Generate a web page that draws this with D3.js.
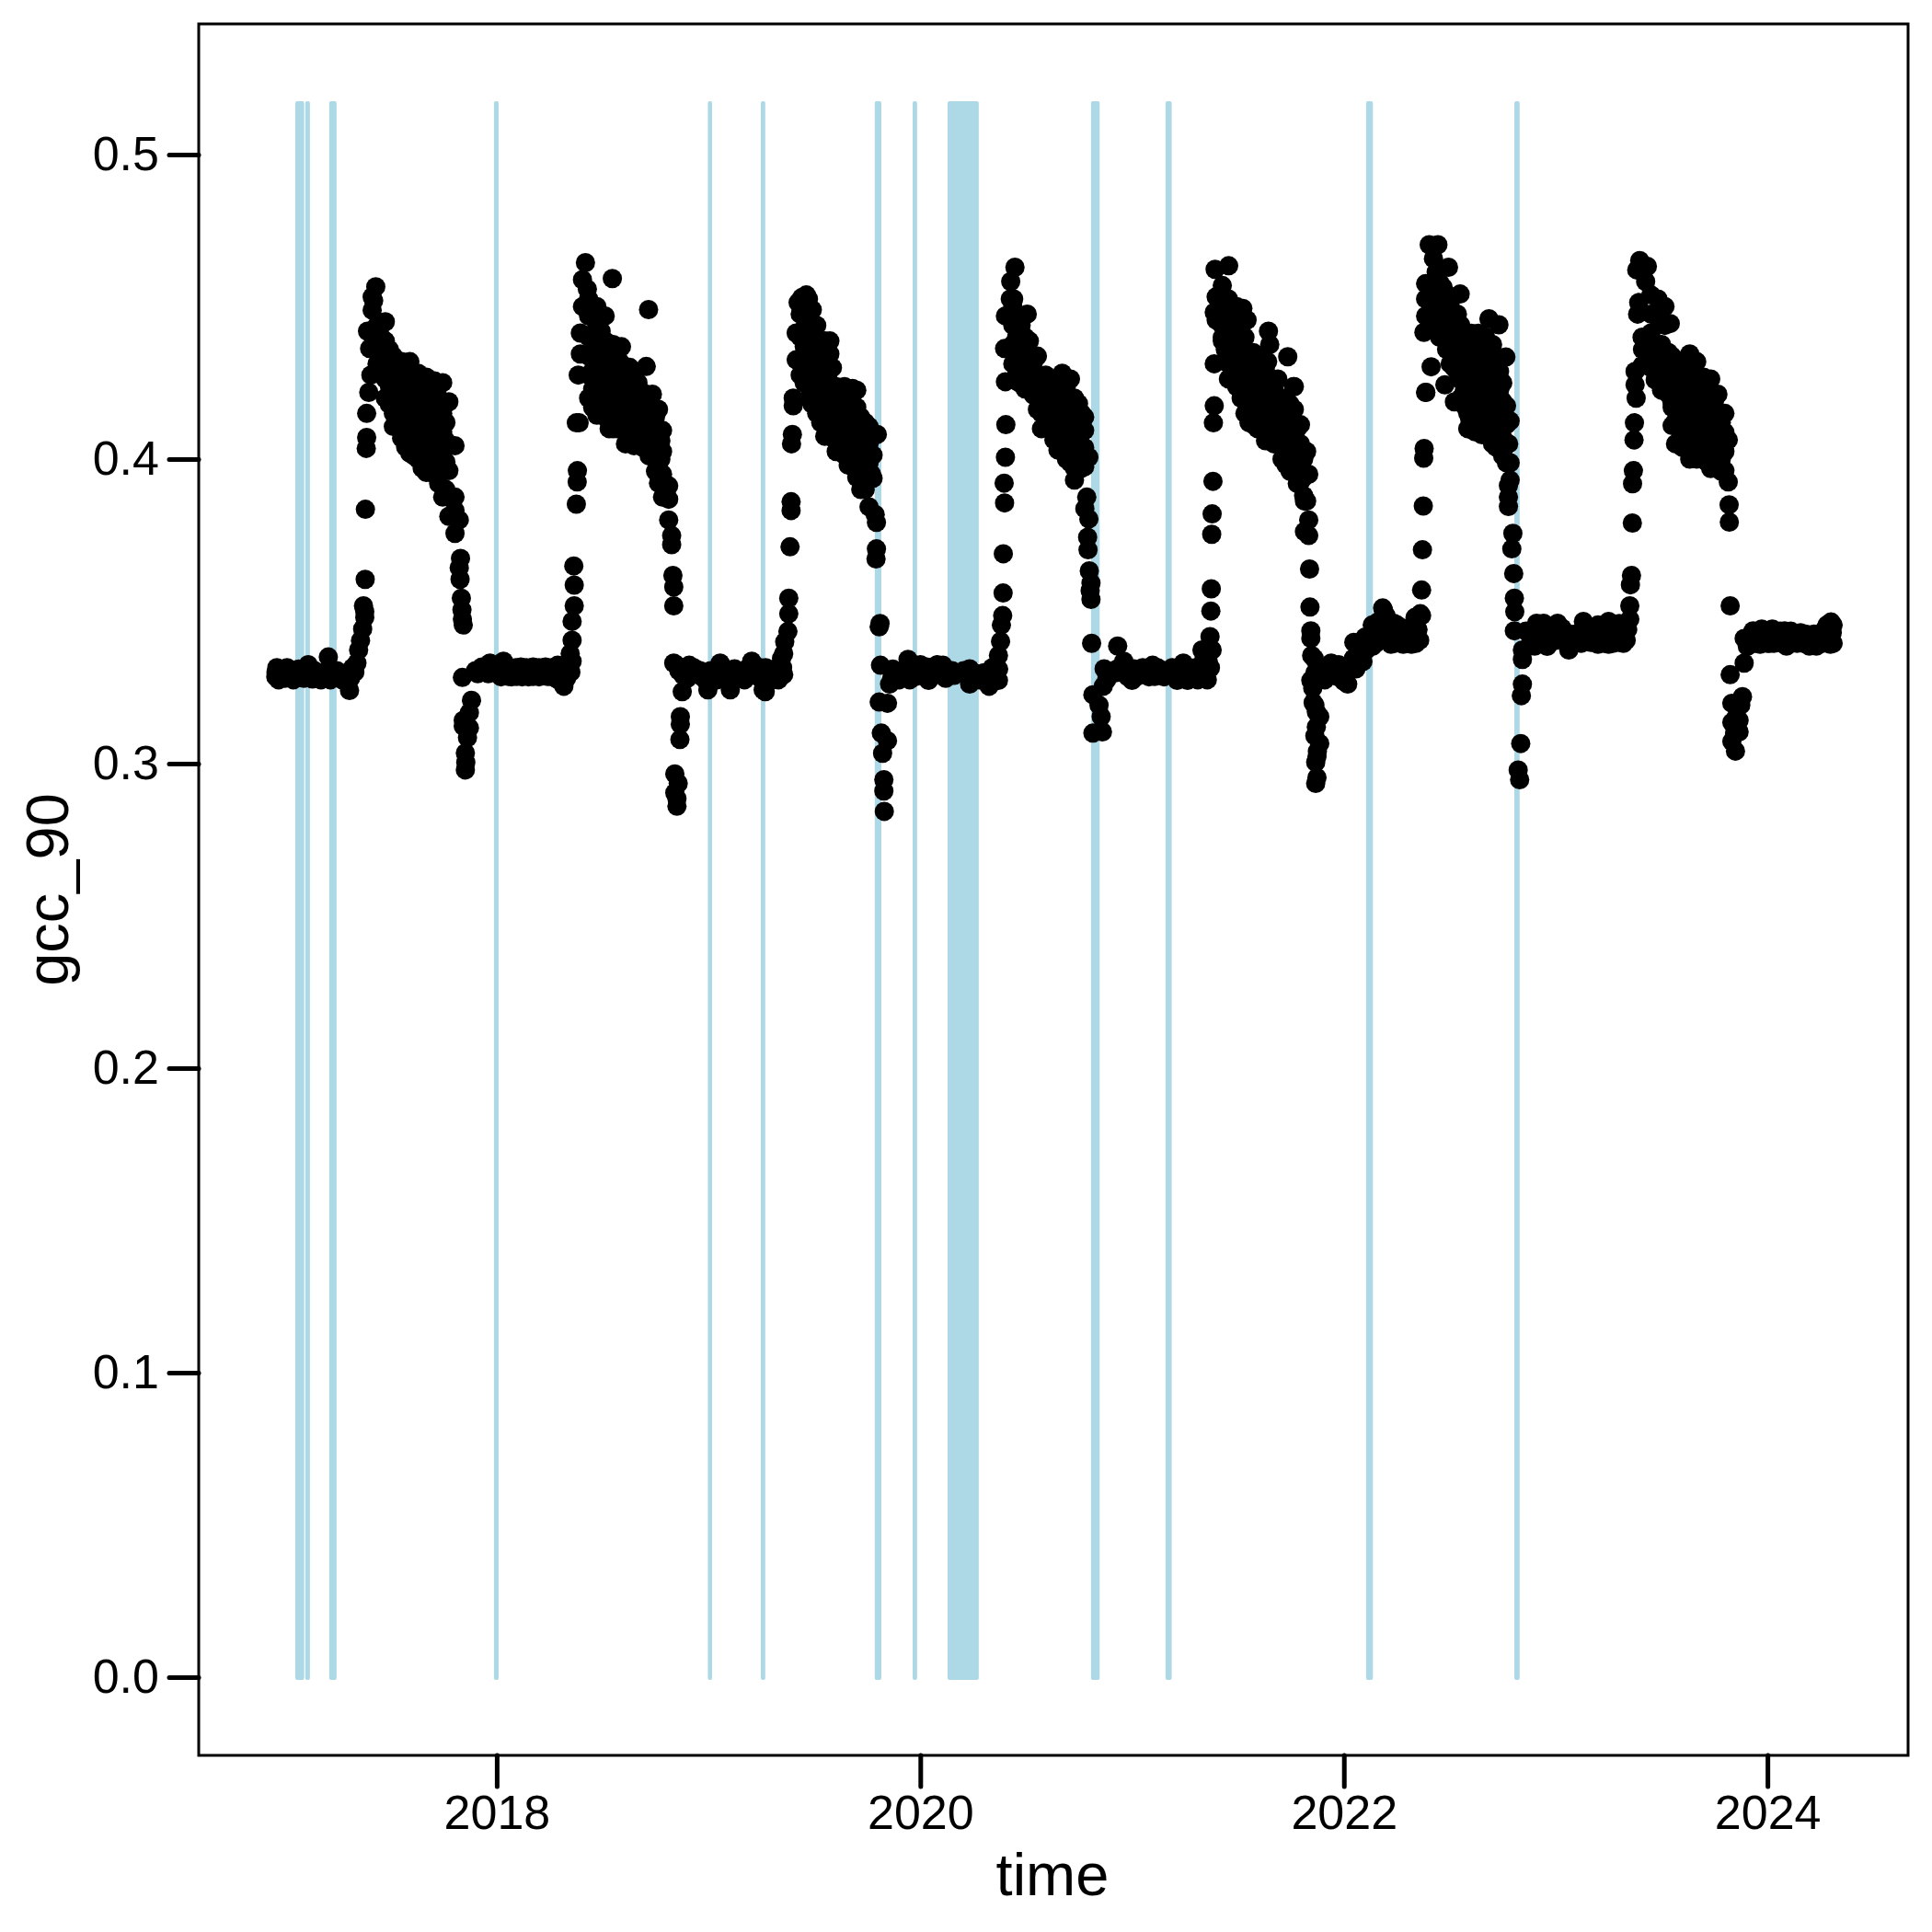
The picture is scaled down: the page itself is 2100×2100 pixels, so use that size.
<!DOCTYPE html>
<html>
<head>
<meta charset="utf-8">
<script src="https://cdn.jsdelivr.net/npm/d3@7"></script>
<style>
html, body { margin: 0; padding: 0; background: #fff; }
text { font-family: "Liberation Sans", Arial, sans-serif; fill: #000; }
.axis text { font-size: 52px; }
.label { font-size: 65px; text-anchor: middle; }
</style>
</head>
<body>
<div id="chart"></div>
<script>
// y ticks, x ticks
let yTicks = [0, 0.1, 0.2, 0.3, 0.4, 0.5];
let xTicks = [2018, 2020, 2022, 2024];

// periods with missing pictures, start and end in decimal years
let gapStart = [2017.049, 2017.096, 2017.209, 2017.987, 2018.997, 2019.247, 2019.785, 2019.964, 2020.129, 2020.806, 2021.158, 2022.105, 2022.805];
let gapEnd = [2017.091, 2017.118, 2017.244, 2018.009, 2019.017, 2019.268, 2019.816, 2019.985, 2020.276, 2020.847, 2021.187, 2022.137, 2022.83];
let gapTop = 0.5175;

// gcc_90, [decimal year, value]
let season2017 = [
  [2016.957,.3285],[2016.958,.330],[2016.962,.3315],[2016.975,.330],[2016.985,.329],[2016.995,.3295],[2017.01,.3315],[2017.02,.329],[2017.035,.3285],[2017.05,.330],[2017.065,.331],[2017.08,.329],[2017.095,.3305],[2017.11,.3325],[2017.125,.3295],[2017.14,.3305],[2017.155,.329],[2017.17,.3275],[2017.185,.329],[2017.2,.3305],[2017.205,.335],[2017.215,.3275],[2017.23,.329],[2017.245,.3305],[2017.26,.3295],[2017.275,.329],[2017.29,.3275],[2017.305,.324],[2017.295,.3285],
  [2016.97,.3275],[2017.0,.328],[2017.04,.3275],[2017.09,.328],[2017.13,.3278],[2017.27,.3275],[2017.31,.328],[2017.32,.3315],[2017.34,.333],
  [2017.33,.330],[2017.348,.3373],[2017.357,.3404],[2017.367,.3442],[2017.377,.348],[2017.371,.3518],[2017.377,.3499],[2017.379,.3605],[2017.38,.3835],[2017.384,.4035],[2017.386,.4071],[2017.386,.415],[2017.396,.4219],[2017.406,.4276],[2017.39,.442],[2017.4,.4363],[2017.412,.4489],[2017.412,.4533],[2017.429,.4566],[2017.419,.452],
  [2017.435,.4439],[2017.435,.4376],[2017.435,.4313],[2017.455,.44],[2017.455,.434],[2017.455,.428],
  [2017.474,.4451],[2017.474,.4388],[2017.474,.4326],[2017.474,.4263],[2017.474,.42],[2017.493,.436],[2017.493,.43],[2017.493,.424],[2017.493,.418],
  [2017.512,.4338],[2017.512,.4276],[2017.512,.4213],[2017.512,.415],[2017.512,.4107],[2017.53,.429],[2017.53,.423],[2017.53,.417],[2017.53,.411],
  [2017.551,.432],[2017.551,.4251],[2017.551,.4188],[2017.551,.4125],[2017.551,.4069],[2017.57,.427],[2017.57,.421],[2017.57,.415],[2017.57,.409],[2017.57,.404],
  [2017.59,.432],[2017.59,.4251],[2017.59,.4188],[2017.59,.4125],[2017.59,.4063],[2017.59,.4019],[2017.61,.424],[2017.61,.418],[2017.61,.412],[2017.61,.406],[2017.61,.401],
  [2017.629,.4282],[2017.629,.4226],[2017.629,.4163],[2017.629,.41],[2017.629,.4038],[2017.629,.4],[2017.648,.422],[2017.648,.415],[2017.648,.409],[2017.648,.403],[2017.648,.397],
  [2017.668,.4269],[2017.668,.4188],[2017.668,.4125],[2017.668,.4063],[2017.668,.4],[2017.668,.3956],[2017.687,.42],[2017.687,.414],[2017.687,.408],[2017.687,.402],[2017.687,.396],
  [2017.706,.4257],[2017.706,.4163],[2017.706,.41],[2017.706,.4038],[2017.706,.3975],[2017.706,.395],[2017.726,.42],[2017.726,.413],[2017.726,.407],[2017.726,.401],[2017.726,.392],
  [2017.745,.4251],[2017.745,.415],[2017.745,.4088],[2017.745,.4025],[2017.745,.3962],[2017.745,.3875],[2017.76,.412],[2017.76,.406],[2017.76,.399],[2017.76,.39],
  [2017.774,.4188],[2017.774,.4044],[2017.774,.3962],[2017.774,.3875],[2017.774,.3812],
  [2017.803,.4044],[2017.803,.3875],[2017.803,.3831],[2017.803,.3756],[2017.823,.38],
  [2017.829,.3674],[2017.823,.3643],[2017.827,.3605],[2017.833,.3543],[2017.836,.3505],[2017.838,.3474],[2017.842,.3455]
];

let season2018 = [
  [2017.838,.3283],[2017.852,.2979],[2017.854,.3004],[2017.852,.3035],[2017.862,.3085],[2017.871,.3117],[2017.842,.3142],[2017.881,.3208],[2017.871,.3167],[2017.842,.3123],
  [2017.9,.3305],[2017.93,.3317],[2017.968,.333],[2018.032,.3336],[2017.997,.3298],[2018.056,.3286],[2018.094,.3286],[2018.114,.3317],[2018.172,.3317],[2018.172,.3286],[2018.23,.3317],[2018.24,.3286],[2018.288,.3323],[2018.317,.3254],[2018.347,.3361],[2018.356,.3405],[2018.356,.3336],[2018.337,.3298],[2018.356,.3467],[2018.366,.3518],[2018.366,.3586],[2018.364,.3649],
  [2018.14,.3305],[2018.2,.33],[2018.265,.33],[2018.01,.3315],[2018.075,.331],
  [2017.91,.3295],[2017.95,.3315],[2017.98,.3325],[2018.05,.3315],[2018.09,.3315],[2018.14,.3315],[2018.2,.3315],[2018.26,.3315],[2018.31,.3315],[2018.34,.3325],[2017.96,.3295],[2018.02,.3285],[2018.07,.3285],[2018.12,.3285],[2018.15,.3285],[2018.2,.3285],[2018.26,.3285],[2018.29,.3275],[2018.33,.328],[2018.35,.33],
  [2018.376,.3852],[2018.38,.3925],[2018.381,.3962],[2018.376,.4119],[2018.389,.4119],[2018.385,.4276],[2018.395,.4345],[2018.395,.4414],[2018.405,.4501],[2018.405,.4589],[2018.428,.4558],[2018.419,.4645],[2018.546,.4593],[2018.717,.4491],
  [2018.434,.4526],[2018.434,.447],[2018.434,.4401],[2018.434,.4338],[2018.434,.4276],[2018.434,.42],[2018.453,.447],[2018.453,.441],[2018.453,.435],[2018.453,.429],[2018.453,.423],[2018.453,.417],
  [2018.473,.4501],[2018.473,.4439],[2018.473,.4376],[2018.473,.4313],[2018.473,.4251],[2018.473,.4188],[2018.473,.4144],[2018.493,.442],[2018.493,.435],[2018.493,.429],[2018.493,.423],[2018.493,.417],
  [2018.512,.447],[2018.512,.4388],[2018.512,.4326],[2018.512,.4263],[2018.512,.42],[2018.512,.4138],[2018.531,.434],[2018.531,.428],[2018.531,.422],[2018.531,.416],[2018.531,.41],
  [2018.55,.4376],[2018.55,.4313],[2018.55,.4251],[2018.55,.4188],[2018.55,.41],[2018.57,.434],[2018.57,.428],[2018.57,.422],[2018.57,.416],[2018.57,.41],
  [2018.589,.4369],[2018.589,.4313],[2018.589,.4251],[2018.589,.4188],[2018.589,.4125],[2018.608,.428],[2018.608,.422],[2018.608,.416],[2018.608,.41],[2018.608,.405],
  [2018.628,.4301],[2018.628,.4251],[2018.628,.4188],[2018.628,.4125],[2018.628,.4063],[2018.648,.4044],[2018.648,.428],[2018.648,.422],[2018.648,.416],[2018.648,.41],
  [2018.667,.4251],[2018.667,.4188],[2018.667,.4125],[2018.667,.4063],[2018.687,.422],[2018.687,.416],[2018.687,.41],[2018.687,.404],
  [2018.706,.4304],[2018.706,.42],[2018.706,.415],[2018.706,.41],[2018.706,.4038],[2018.72,.418],[2018.72,.412],[2018.72,.406],[2018.72,.401],
  [2018.735,.4213],[2018.735,.415],[2018.735,.4088],[2018.735,.4013],[2018.75,.414],[2018.75,.408],[2018.75,.402],[2018.75,.396],
  [2018.764,.4163],[2018.764,.41],[2018.764,.4038],[2018.764,.3975],[2018.764,.3921],[2018.775,.406],[2018.775,.4],[2018.775,.394],
  [2018.783,.4094],[2018.783,.4025],[2018.783,.395],[2018.783,.3875],
  [2018.812,.3912],[2018.812,.3868],[2018.812,.38],[2018.826,.3749],[2018.826,.3719],
  [2018.832,.3618],[2018.836,.358],[2018.836,.3518]
];

let season2019 = [
  [2018.836,.333],[2018.876,.3236],[2018.867,.3154],[2018.867,.3129],[2018.865,.3079],[2018.841,.2966],[2018.857,.2935],[2018.841,.2904],[2018.851,.286],[2018.851,.2885],
  [2018.85,.3323],[2018.88,.329],[2018.909,.3323],[2018.94,.33],[2018.967,.3286],[2018.997,.3242],[2019.026,.3286],[2019.055,.333],[2019.08,.329],[2019.103,.3242],[2019.123,.3311],[2019.161,.3292],[2019.19,.33],[2019.204,.3336],[2019.22,.3298],[2019.258,.3242],[2019.268,.3236],[2019.29,.329],[2019.317,.3311],[2019.34,.33],[2019.355,.3292],[2019.355,.3361],[2019.36,.34],[2019.375,.3434],[2019.379,.3492],[2019.379,.3543],[2019.385,.3712],[2019.39,.3831],[2019.39,.386],[2019.392,.405],[2019.396,.4081],[2019.4,.4175],[2019.4,.42],[2019.414,.4326],[2019.414,.4414],[2019.423,.4514],[2019.462,.4539],[2019.44,.453],
  [2018.86,.3305],[2018.9,.328],[2018.93,.3315],[2018.96,.3305],[2018.985,.3275],[2019.01,.3305],[2019.04,.3275],[2019.07,.3315],[2019.09,.3275],[2019.115,.3275],[2019.14,.3305],[2019.17,.3275],[2019.19,.3315],[2019.235,.3285],[2019.245,.3315],[2019.27,.3315],[2019.3,.3275],[2019.33,.3275],[2019.35,.3315],[2019.345,.3345],
  [2019.433,.4476],[2019.433,.4401],[2019.433,.4326],[2019.433,.4276],[2019.452,.449],[2019.452,.443],[2019.452,.437],[2019.452,.431],[2019.452,.425],
  [2019.472,.4526],[2019.472,.447],[2019.472,.4388],[2019.472,.4313],[2019.472,.4251],[2019.472,.42],[2019.49,.449],[2019.49,.442],[2019.49,.436],[2019.49,.43],[2019.49,.424],[2019.49,.418],
  [2019.511,.4439],[2019.511,.4376],[2019.511,.4313],[2019.511,.4251],[2019.511,.4188],[2019.511,.415],[2019.53,.436],[2019.53,.43],[2019.53,.424],[2019.53,.418],[2019.53,.412],
  [2019.549,.4388],[2019.549,.4326],[2019.549,.4251],[2019.549,.4188],[2019.549,.4125],[2019.549,.4075],
  [2019.564,.4276],[2019.564,.4213],[2019.564,.415],[2019.564,.4088],[2019.573,.4388],[2019.573,.4345],[2019.585,.43],[2019.585,.424],[2019.585,.418],[2019.585,.412],[2019.585,.407],
  [2019.603,.4238],[2019.603,.4188],[2019.603,.4125],[2019.603,.4063],[2019.603,.4025],[2019.622,.421],[2019.622,.415],[2019.622,.409],[2019.622,.404],
  [2019.642,.4238],[2019.642,.4188],[2019.642,.4125],[2019.642,.4063],[2019.642,.4013],[2019.66,.42],[2019.66,.414],[2019.66,.408],[2019.66,.402],[2019.66,.398],
  [2019.68,.4232],[2019.68,.4163],[2019.68,.41],[2019.68,.4038],[2019.68,.3975],[2019.70,.417],[2019.70,.411],[2019.70,.405],[2019.70,.399],[2019.70,.394],
  [2019.70,.4226],[2019.719,.4138],[2019.719,.4075],[2019.719,.4013],[2019.719,.395],[2019.719,.39],[2019.74,.412],[2019.74,.406],[2019.74,.4],[2019.74,.394],[2019.74,.39],
  [2019.758,.4107],[2019.758,.405],[2019.758,.3988],[2019.758,.3937],[2019.77,.407],[2019.77,.401],[2019.77,.395],
  [2019.777,.4081],[2019.777,.4013],[2019.777,.3937],[2019.797,.4081],
  [2019.758,.3843],[2019.793,.3792],[2019.787,.3818],[2019.793,.3705],[2019.791,.3672],[2019.806,.3449],[2019.81,.346]
];

let season2020 = [
  [2019.812,.3323],[2019.806,.3202],[2019.845,.3198],[2019.816,.31],[2019.845,.3075],[2019.822,.3034],[2019.828,.2947],[2019.828,.291],[2019.83,.2843],
  [2019.855,.3261],[2019.865,.328],[2019.884,.3292],[2019.91,.3295],[2019.942,.3342],[2019.923,.3286],[2019.96,.33],[2019.981,.3311],[2020.01,.3305],[2020.039,.3273],[2020.03,.3317],[2020.06,.33],[2020.107,.3323],[2020.078,.3292],[2020.136,.3292],[2020.224,.3286],[2020.233,.3261],[2020.233,.3311],[2020.27,.3295],[2020.301,.3298],[2020.325,.3254],[2020.35,.329],[2020.369,.3273],[2020.369,.3355],[2020.379,.3401],[2020.383,.3455],[2020.389,.3486],[2020.391,.356],[2020.392,.3689],[2020.398,.3856],[2020.396,.3921],[2020.402,.4006],[2020.404,.4113],[2020.402,.4254],[2020.466,.4251],[2020.398,.4363],[2020.402,.447],[2020.427,.4583],[2020.447,.463],[2020.441,.4526],[2020.505,.4476],[2020.425,.4526],
  [2019.87,.331],[2019.9,.3275],[2019.93,.3305],[2019.95,.3275],[2019.975,.3285],[2020.0,.3325],[2020.02,.3285],[2020.05,.3315],[2020.08,.3325],[2020.1,.3295],[2020.12,.328],[2020.15,.3305],[2020.16,.329],[2020.205,.3305],[2020.25,.329],[2020.28,.3275],[2020.31,.3285],[2020.34,.3315],[2020.36,.3275],[2020.37,.331],
  [2020.437,.4501],[2020.437,.4439],[2020.437,.4376],[2020.437,.4313],[2020.455,.447],[2020.455,.44],[2020.455,.434],[2020.455,.428],
  [2020.476,.4439],[2020.476,.4376],[2020.476,.4313],[2020.476,.4263],[2020.495,.44],[2020.495,.434],[2020.495,.428],[2020.495,.423],
  [2020.515,.4388],[2020.515,.4326],[2020.515,.4276],[2020.515,.4226],[2020.535,.432],[2020.535,.427],[2020.535,.421],
  [2020.553,.4338],[2020.553,.4276],[2020.553,.4226],[2020.553,.4163],[2020.572,.427],[2020.572,.421],[2020.572,.415],[2020.572,.41],
  [2020.592,.4276],[2020.592,.4226],[2020.592,.4163],[2020.592,.4107],[2020.612,.422],[2020.612,.416],[2020.612,.41],
  [2020.631,.4251],[2020.631,.4188],[2020.631,.4125],[2020.631,.4063],[2020.65,.42],[2020.65,.414],[2020.65,.408],[2020.65,.403],
  [2020.67,.4282],[2020.67,.4213],[2020.67,.415],[2020.67,.4088],[2020.67,.4025],[2020.69,.424],[2020.69,.418],[2020.69,.412],[2020.69,.406],[2020.69,.4],
  [2020.709,.4263],[2020.709,.4188],[2020.709,.4125],[2020.709,.4063],[2020.709,.3988],[2020.728,.42],[2020.728,.414],[2020.728,.408],[2020.728,.402],[2020.728,.397],
  [2020.747,.4182],[2020.747,.4113],[2020.747,.405],[2020.747,.3988],[2020.762,.415],[2020.762,.409],[2020.762,.403],[2020.762,.397],
  [2020.776,.4138],[2020.776,.4094],[2020.776,.4038],[2020.776,.3975],[2020.796,.4006],[2020.728,.3931],
  [2020.786,.3875],[2020.777,.3837],[2020.796,.3803],[2020.79,.3743],[2020.792,.3702],[2020.798,.3633],[2020.806,.3593],[2020.802,.3568],[2020.806,.3539],[2020.809,.3395]
];

let season2021 = [
  [2020.815,.3226],[2020.844,.3192],[2020.854,.3154],[2020.815,.31],[2020.86,.3104],[2020.868,.3311],[2020.864,.3254],[2020.932,.3386],[2020.922,.3298],[2020.89,.3295],[2021.0,.3273],[2020.961,.3336],[2021.009,.3311],[2020.98,.3305],[2021.03,.33],[2021.097,.3323],[2021.106,.3286],[2021.058,.3292],[2021.14,.3295],[2021.174,.3298],[2021.213,.3273],[2021.242,.333],[2021.262,.3273],[2021.29,.3285],[2021.32,.3286],[2021.33,.3373],[2021.368,.3417],[2021.359,.3336],[2021.378,.3373],[2021.35,.33],
  [2020.88,.3275],[2020.91,.3305],[2020.94,.3315],[2020.98,.3285],[2021.02,.3285],[2021.05,.3315],[2021.08,.3285],[2021.12,.3315],[2021.15,.3285],[2021.19,.3315],[2021.22,.3285],[2021.23,.3315],[2021.27,.3315],[2021.3,.3315],[2021.31,.3275],[2021.34,.3345],[2021.355,.3275],[2021.37,.3315],
  [2021.372,.3501],[2021.374,.3574],[2021.376,.3753],[2021.378,.382],[2021.382,.3927],[2021.384,.4119],[2021.388,.4175],[2021.388,.4313],
  [2021.392,.4623],[2021.456,.4635],[2021.426,.457],[2021.397,.4533],[2021.388,.4482],[2021.397,.4457],[2021.426,.44],[2021.523,.4495],[2021.543,.4457],[2021.644,.442],[2021.65,.4376],[2021.735,.4336],[2021.762,.4238],[2021.64,.432],
  [2021.426,.4501],[2021.426,.4439],[2021.426,.4388],[2021.44,.448],[2021.44,.442],[2021.44,.436],
  [2021.455,.4526],[2021.455,.4451],[2021.455,.4376],[2021.455,.4313],[2021.455,.4263],[2021.475,.449],[2021.475,.443],[2021.475,.437],[2021.475,.431],[2021.475,.426],
  [2021.494,.4501],[2021.494,.4426],[2021.494,.4363],[2021.494,.43],[2021.494,.4238],[2021.515,.444],[2021.515,.438],[2021.515,.432],[2021.515,.426],[2021.515,.42],
  [2021.533,.44],[2021.533,.4338],[2021.533,.4276],[2021.533,.4213],[2021.533,.415],[2021.552,.435],[2021.552,.43],[2021.552,.424],[2021.552,.418],[2021.552,.412],
  [2021.572,.435],[2021.572,.4288],[2021.572,.4226],[2021.572,.4163],[2021.572,.4113],[2021.592,.433],[2021.592,.427],[2021.592,.421],[2021.592,.415],[2021.592,.41],
  [2021.611,.4326],[2021.611,.4263],[2021.611,.42],[2021.611,.4138],[2021.63,.429],[2021.63,.423],[2021.63,.417],[2021.63,.411],[2021.63,.406],
  [2021.65,.4263],[2021.65,.42],[2021.65,.4138],[2021.65,.4081],[2021.67,.423],[2021.67,.417],[2021.67,.411],[2021.67,.405],
  [2021.688,.4263],[2021.688,.4188],[2021.688,.4125],[2021.688,.4063],[2021.708,.418],[2021.708,.412],[2021.708,.406],[2021.708,.4],
  [2021.727,.42],[2021.727,.4138],[2021.727,.4075],[2021.727,.4013],[2021.727,.3981],[2021.746,.418],[2021.746,.412],[2021.746,.406],[2021.746,.4],[2021.746,.396],
  [2021.766,.4238],[2021.766,.4163],[2021.766,.41],[2021.766,.4038],[2021.766,.3975],[2021.78,.41],[2021.78,.404],[2021.78,.398],[2021.78,.392],
  [2021.795,.4113],[2021.795,.405],[2021.795,.3988],[2021.795,.3925],[2021.81,.4],[2021.81,.394],[2021.81,.388],
  [2021.824,.4025],[2021.824,.395],[2021.824,.3862],[2021.834,.38],[2021.834,.395],[2021.834,.3749],[2021.814,.3762],[2021.814,.3862],
  [2021.838,.3639],[2021.84,.3514],[2021.844,.3436],[2021.844,.3411],[2021.848,.3355]
];

let season2022 = [
  [2021.863,.3298],[2021.853,.3248],[2021.863,.3192],[2021.886,.3154],[2021.863,.3091],[2021.886,.3066],[2021.867,.3004],[2021.873,.3023],[2021.867,.2935],[2021.873,.2954],[2021.844,.3273],
  [2021.892,.3317],[2021.915,.3305],[2021.94,.333],[2021.97,.3286],[2021.995,.33],[2022.018,.3261],[2022.047,.3398],[2022.057,.3311],[2022.08,.3345],[2022.105,.3373],[2022.134,.3455],[2022.183,.3511],[2022.164,.3436],[2022.251,.3455],[2022.222,.3392],[2022.28,.3392],[2022.319,.3392],[2022.358,.3405],[2022.367,.3486],[2022.367,.357],[2022.371,.3702],[2022.375,.3846],[2022.377,.4003],[2022.379,.4035],[2022.387,.4219],[2022.412,.4303],
  [2022.187,.3505],[2022.236,.3461],[2022.336,.348],[2022.361,.3492],[2022.15,.3395],[2022.2,.345],
  [2021.86,.3345],[2021.855,.32],[2021.87,.317],[2021.87,.312],[2021.875,.304],[2021.88,.3295],[2021.91,.3275],[2021.93,.3295],[2021.95,.3295],[2021.975,.3325],[2022.0,.327],[2022.03,.332],[2022.045,.3345],[2022.07,.3375],[2022.09,.3335],[2022.12,.3415],[2022.1,.3415],[2022.135,.3385],[2022.16,.3465],[2022.2,.3485],[2022.215,.3445],[2022.24,.3395],[2022.26,.3425],[2022.3,.3425],[2022.3,.3395],[2022.34,.3395],[2022.35,.344],[2022.33,.3445],[2022.27,.341],[2022.28,.3445],
  [2022.403,.4704],[2022.444,.4704],[2022.423,.4658],[2022.494,.463],[2022.386,.4576],[2022.549,.4542],[2022.386,.4526],[2022.386,.447],[2022.378,.4416],[2022.386,.4219],[2022.477,.4244],[2022.522,.4188],[2022.594,.4132],[2022.669,.4081],[2022.735,.4038],[2022.685,.4461],[2022.732,.4441],[2022.765,.4335],
  [2022.436,.4614],[2022.436,.4551],[2022.436,.4489],[2022.436,.4426],[2022.452,.458],[2022.452,.452],[2022.452,.446],[2022.452,.44],
  [2022.469,.4564],[2022.469,.4501],[2022.469,.4439],[2022.485,.454],[2022.485,.448],[2022.485,.442],[2022.485,.436],
  [2022.502,.4514],[2022.502,.4451],[2022.502,.4388],[2022.502,.4313],[2022.52,.448],[2022.52,.442],[2022.52,.436],[2022.52,.43],
  [2022.536,.4476],[2022.536,.4413],[2022.536,.435],[2022.536,.4288],[2022.552,.444],[2022.552,.438],[2022.552,.432],[2022.552,.426],[2022.552,.42],
  [2022.569,.4413],[2022.569,.435],[2022.569,.4288],[2022.569,.4226],[2022.569,.4176],[2022.585,.439],[2022.585,.433],[2022.585,.427],[2022.585,.421],[2022.585,.415],[2022.585,.41],
  [2022.602,.4413],[2022.602,.435],[2022.602,.4288],[2022.602,.4226],[2022.602,.4163],[2022.602,.4113],[2022.618,.439],[2022.618,.433],[2022.618,.427],[2022.618,.421],[2022.618,.415],[2022.618,.409],
  [2022.635,.4413],[2022.635,.435],[2022.635,.4288],[2022.635,.4226],[2022.635,.4163],[2022.635,.41],[2022.652,.438],[2022.652,.432],[2022.652,.426],[2022.652,.42],[2022.652,.414],[2022.652,.408],
  [2022.669,.4401],[2022.669,.4326],[2022.669,.4251],[2022.669,.4188],[2022.669,.4125],[2022.685,.435],[2022.685,.429],[2022.685,.423],[2022.685,.417],[2022.685,.411],
  [2022.702,.4376],[2022.702,.4313],[2022.702,.4238],[2022.702,.4175],[2022.702,.4113],[2022.702,.405],[2022.718,.428],[2022.718,.422],[2022.718,.416],[2022.718,.41],[2022.718,.404],
  [2022.735,.4288],[2022.735,.4226],[2022.735,.4163],[2022.735,.41],[2022.75,.425],[2022.75,.419],[2022.75,.413],[2022.75,.407],[2022.75,.401],
  [2022.768,.4175],[2022.768,.4113],[2022.768,.405],[2022.768,.3988],[2022.778,.405],[2022.778,.399],
  [2022.785,.4125],[2022.785,.3988],[2022.785,.3931],[2022.777,.3913],[2022.777,.3875],[2022.777,.3844],
  [2022.798,.3756],[2022.793,.3705],[2022.802,.3624],[2022.805,.3543],[2022.807,.3499]
];

let season2023 = [
  [2022.805,.3436],[2022.843,.3342],[2022.843,.3261],[2022.838,.3223],[2022.835,.3066],[2022.823,.2979],[2022.83,.2947],
  [2022.843,.3373],[2022.876,.3386],[2022.91,.3461],[2022.943,.3461],[2022.901,.3386],[2023.009,.3461],[2022.968,.3411],[2023.062,.3373],[2023.034,.3411],[2023.095,.34],[2023.131,.3467],[2023.167,.3398],[2023.2,.3455],[2023.25,.3467],[2023.2,.3392],[2023.25,.3392],[2023.3,.3398],[2023.333,.3405],[2023.35,.3474],[2023.35,.3518],[2023.353,.3587],[2023.358,.3618],[2023.362,.379],[2023.363,.3919],[2023.367,.3962],[2023.37,.4063],[2023.372,.4119],[2023.38,.42],[2023.375,.4244],[2023.375,.4288],[2023.408,.4307],
  [2022.86,.3435],[2022.88,.342],[2022.92,.3405],[2022.93,.3435],[2022.96,.3385],[2022.98,.3445],[2023.0,.3405],[2023.03,.3445],[2023.06,.3425],[2023.09,.3425],[2023.12,.3395],[2023.14,.3425],[2023.17,.3435],[2023.18,.344],[2023.22,.3425],[2023.23,.3395],[2023.27,.3425],[2023.28,.3445],[2023.32,.3435],[2023.32,.3395],[2023.34,.344],[2023.3,.346],[2023.27,.3395],
  [2023.397,.4652],[2023.383,.4621],[2023.433,.4633],[2023.425,.4583],[2023.392,.4514],[2023.387,.4476],[2023.408,.44],[2023.41,.436],
  [2023.435,.438],[2023.435,.432],[2023.45,.435],[2023.45,.43],[2023.47,.432],[2023.47,.426],
  [2023.45,.4539],[2023.45,.4476],[2023.45,.4414],
  [2023.483,.4526],[2023.483,.4464],[2023.483,.4376],
  [2023.516,.4501],[2023.516,.4439],[2023.516,.435],[2023.516,.4276],
  [2023.541,.4445],[2023.549,.4338],[2023.549,.4263],[2023.549,.4188],
  [2023.50,.4376],[2023.50,.4313],[2023.50,.4226],
  [2023.533,.435],[2023.533,.4276],[2023.533,.4213],[2023.515,.433],[2023.515,.427],[2023.55,.429],[2023.55,.423],[2023.55,.417],[2023.55,.411],
  [2023.566,.4326],[2023.566,.4251],[2023.566,.4188],[2023.566,.4125],[2023.566,.405],[2023.583,.428],[2023.583,.422],[2023.583,.416],[2023.583,.41],
  [2023.599,.4313],[2023.599,.4238],[2023.599,.4175],[2023.599,.4113],[2023.599,.4038],[2023.617,.43],[2023.617,.424],[2023.617,.418],[2023.617,.412],[2023.617,.406],
  [2023.633,.4345],[2023.633,.4238],[2023.633,.4175],[2023.633,.4113],[2023.633,.405],[2023.633,.4],[2023.65,.427],[2023.65,.421],[2023.65,.415],[2023.65,.409],[2023.65,.403],
  [2023.666,.432],[2023.666,.42],[2023.666,.4138],[2023.666,.4075],[2023.666,.4],[2023.683,.425],[2023.683,.418],[2023.683,.412],[2023.683,.406],[2023.683,.401],
  [2023.699,.4269],[2023.699,.42],[2023.699,.4138],[2023.699,.4075],[2023.699,.4],[2023.715,.423],[2023.715,.417],[2023.715,.411],[2023.715,.405],[2023.715,.399],
  [2023.732,.4263],[2023.732,.42],[2023.732,.4138],[2023.732,.4075],[2023.732,.4013],[2023.732,.3969],[2023.75,.419],[2023.75,.413],[2023.75,.407],[2023.75,.401],
  [2023.766,.4213],[2023.766,.415],[2023.766,.4088],[2023.766,.4013],[2023.782,.412],[2023.782,.406],[2023.782,.4],[2023.782,.396],
  [2023.799,.415],[2023.799,.4088],[2023.799,.4025],[2023.799,.3962],[2023.815,.4063],[2023.815,.3925],
  [2023.819,.385],[2023.82,.3793],[2023.824,.3518]
];

let season2024 = [
  [2023.824,.3292],[2023.832,.3198],[2023.882,.322],[2023.874,.3192],[2023.832,.3135],[2023.866,.3142],[2023.832,.3073],[2023.866,.3104],[2023.849,.3041],
  [2023.85,.315],[2023.845,.31],[2023.89,.333],[2023.89,.3411],[2023.932,.3436],[2023.973,.3442],[2023.965,.3392],[2024.023,.3442],[2024.05,.341],[2024.081,.3436],[2024.09,.3386],[2024.123,.3405],[2024.156,.343],[2024.198,.3386],[2024.231,.3386],[2024.281,.3455],[2024.306,.343],[2024.297,.3392],[2024.256,.3423],[2024.20,.342],[2024.01,.3395],
  [2023.905,.3385],[2023.91,.3415],[2023.94,.3395],[2023.95,.343],[2023.99,.3415],[2024.0,.3395],[2024.03,.3395],[2024.06,.3435],[2024.07,.3395],[2024.11,.3435],[2024.14,.3395],[2024.17,.3395],[2024.18,.3425],[2024.22,.3425],[2024.24,.3425],[2024.26,.3395],[2024.29,.3415],[2024.31,.3395],[2024.31,.3455],[2024.27,.344],[2024.3,.3465]
];

let points = [].concat(season2017, season2018, season2019, season2020, season2021, season2022, season2023, season2024);

let panelLeft = 216;
let panelRight = 2074;
let panelTop = 26;
let panelBottom = 1908;

let svg = d3.select("div#chart")
    .append("svg")
    .attr("width", 2100)
    .attr("height", 2100)
    .style("display", "block");

let xScale = d3.scaleLinear().domain([2016.593, 2024.664]).range([panelLeft, panelRight]);
let yScale = d3.scaleLinear().domain([-0.0257, 0.5429]).range([panelBottom, panelTop]);

// gaps go first, the points sit on top
svg.append("g")
    .selectAll("rect")
    .data(gapStart)
    .join("rect")
    .attr("x", d => xScale(d))
    .attr("width", (d, i) => xScale(gapEnd[i]) - xScale(d))
    .attr("y", yScale(gapTop))
    .attr("height", yScale(0) - yScale(gapTop) + 3)
    .attr("rx", 2)
    .attr("fill", "#add8e6");

svg.append("g")
    .selectAll("circle")
    .data(points)
    .join("circle")
    .attr("cx", d => xScale(d[0]))
    .attr("cy", d => yScale(d[1]))
    .attr("r", 10.5)
    .attr("fill", "#000");

// panel border
svg.append("rect")
    .attr("x", panelLeft)
    .attr("y", panelTop)
    .attr("width", panelRight - panelLeft)
    .attr("height", panelBottom - panelTop)
    .attr("fill", "none")
    .attr("stroke", "#000")
    .attr("stroke-width", 3);

// x axis
let xAxis = svg.append("g")
    .attr("class", "axis")
    .attr("transform", "translate(0," + panelBottom + ")")
    .call(d3.axisBottom(xScale).tickValues(xTicks).tickFormat(d3.format("d")).tickSize(34).tickPadding(9));

// y axis
let yAxis = svg.append("g")
    .attr("class", "axis")
    .attr("transform", "translate(" + panelLeft + ",0)")
    .call(d3.axisLeft(yScale).tickValues(yTicks).tickFormat(d3.format(".1f")).tickSize(32).tickPadding(11));

[xAxis, yAxis].forEach(a => {
    a.select(".domain").remove();
    a.selectAll("line")
        .attr("stroke", "#000")
        .attr("stroke-width", 5)
        .attr("stroke-linecap", "round");
});

// axis labels
svg.append("text")
    .attr("class", "label")
    .attr("transform", "translate(" + ((panelLeft + panelRight) / 2 - 1) + ", 2060)")
    .text("time");

svg.append("text")
    .attr("class", "label")
    .attr("transform", "translate(74, " + ((panelTop + panelBottom) / 2) + ") rotate(270)")
    .text("gcc_90");
</script>
</body>
</html>
